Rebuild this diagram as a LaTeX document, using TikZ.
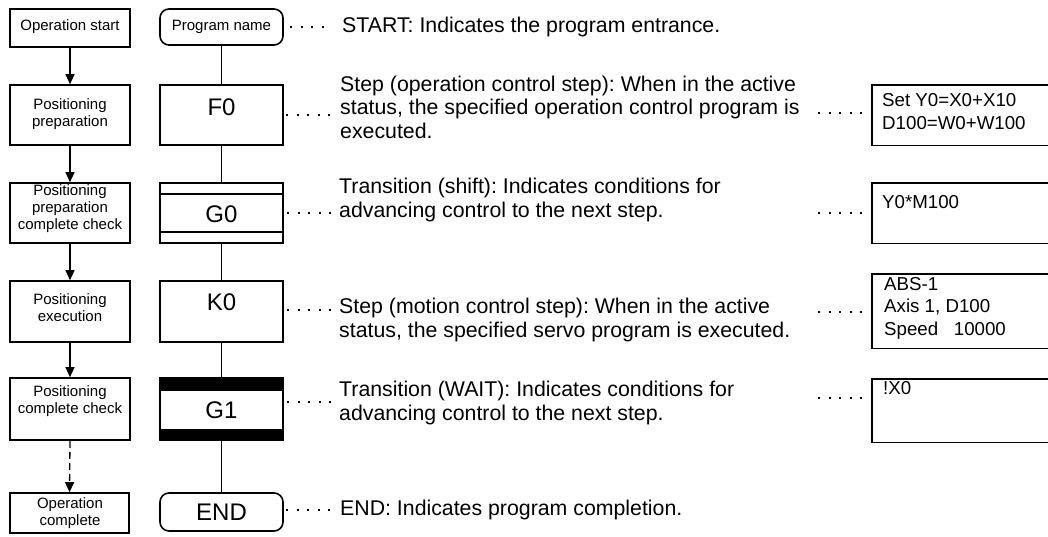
\documentclass[tikz,border=0pt]{standalone}
\usepackage{fontspec}
\setmainfont{Liberation Sans}
\usetikzlibrary{arrows.meta}
\frenchspacing
\begin{document}
\begin{tikzpicture}[x=1pt,y=-1pt,
  box/.style={draw,line width=1.6pt,inner sep=0pt},
  lbox/.style={box,minimum width=120pt},
  mbox/.style={box,minimum width=123pt},
  ltext/.style={font=\fontsize{15}{17}\selectfont,align=center,inner sep=0pt},
  mlab/.style={font=\fontsize{24}{28}\selectfont,inner sep=0pt},
  desc/.style={font=\fontsize{21.3}{23.5}\selectfont,align=left,anchor=west,inner sep=0pt},
  rtext/.style={font=\fontsize{18.7}{22.5}\selectfont,align=left,anchor=west,inner sep=0pt},
  flow/.style={line width=1.3pt,-{Triangle[width=9pt,length=10pt]}},
  dflow/.style={flow,dash pattern=on 7pt off 4pt},
  link/.style={line width=1.5pt},
  dots/.style={line width=2pt,dash pattern=on 2pt off 8.5pt},
  rbox/.style={line width=1.6pt}]
\useasboundingbox (0,0) rectangle (1048,537);

% ---------- left column ----------
\node[lbox,minimum height=38pt] (os) at (70,28) {};
\node[lbox,minimum height=60pt] (pp) at (70,115) {};
\node[lbox,minimum height=60pt] (ppc) at (70,213) {};
\node[lbox,minimum height=61pt] (pe) at (70,311.5) {};
\node[lbox,minimum height=62pt] (pcc) at (70,409) {};
\node[lbox,minimum height=40pt,minimum width=119pt] (oc) at (69.5,513) {};

\node[ltext] (tos) at (70,26.5) {Operation start};
\node[ltext] (tpp) at (70,114.5) {Positioning\\preparation};
\node[ltext] (tppc) at (70,209) {Positioning\\preparation\\complete check};
\node[ltext] (tpe) at (70,307.5) {Positioning\\execution};
\node[ltext] (tpcc) at (70,401.5) {Positioning\\complete check};
\node[ltext] (toc) at (70,513.5) {Operation\\complete};

\draw[flow] (os.south) -- (pp.north);
\draw[flow] (pp.south) -- (ppc.north);
\draw[flow] (ppc.south) -- (pe.north);
\draw[flow] (pe.south) -- (pcc.north);
\draw[dflow] (pcc.south) -- (oc.north);

% ---------- middle column ----------
\node[mbox,minimum height=36pt,rounded corners=9pt,font=\fontsize{15}{17}\selectfont] (prog) at (221.5,27) {Program name};
\node[mbox,minimum height=60pt] (f0) at (221.5,115) {};
\node[mbox,minimum height=60pt] (g0) at (221.5,213) {};
\node[mbox,minimum height=61pt] (k0) at (221.5,311.5) {};
\node[mbox,minimum height=62pt] (g1) at (221.5,409) {};
\node[mbox,minimum height=38pt,rounded corners=9pt,font=\fontsize{24}{28}\selectfont] (end) at (221.5,512) {END};

\draw[line width=1.6pt] (g0.west |- 0,194) -- (g0.east |- 0,194);
\draw[line width=1.6pt] (g0.west |- 0,232) -- (g0.east |- 0,232);
\fill (g1.north west) rectangle ([yshift=-14pt]g1.north east);
\fill ([yshift=12pt]g1.south west) rectangle (g1.south east);

\node[mlab] (f0l) at (221.5,107) {F0};
\node[mlab] (g0l) at (221.5,214) {G0};
\node[mlab] (k0l) at (221.5,302) {K0};
\node[mlab] (g1l) at (221.5,410) {G1};

\draw[link] (prog.south) -- (f0.north);
\draw[link] (f0.south) -- (g0.north);
\draw[link] (g0.south) -- (k0.north);
\draw[link] (k0.south) -- (g1.north);
\draw[link] (g1.south) -- (end.north);

% ---------- descriptions ----------
\node[desc] (dstart) at (342,26.5) {START: Indicates the program entrance.};
\node[desc] (dstep1) at (340,107) {Step (operation control step): When in the active\\status, the specified operation control program is\\executed.};
\node[desc] (dtr1) at (339,200) {Transition (shift): Indicates conditions for\\advancing control to the next step.};
\node[desc] (dstep2) at (339,320) {Step (motion control step): When in the active\\status, the specified servo program is executed.};
\node[desc] (dtr2) at (339,403) {Transition (WAIT): Indicates conditions for\\advancing control to the next step.};
\node[desc] (dend) at (340,510) {END: Indicates program completion.};

\coordinate (a1) at (290,27);  \coordinate (b1) at (323.5,27);
\coordinate (a2) at (286,115); \coordinate (b2) at (330,115);
\coordinate (a3) at (287,213); \coordinate (b3) at (331,213);
\coordinate (a4) at (287,310); \coordinate (b4) at (331,310);
\coordinate (a5) at (287,402); \coordinate (b5) at (331,402);
\coordinate (a6) at (286,510); \coordinate (b6) at (330,510);
\draw[dots] (a1) -- (b1);
\draw[dots] (a2) -- (b2);
\draw[dots] (a3) -- (b3);
\draw[dots] (a4) -- (b4);
\draw[dots] (a5) -- (b5);
\draw[dots] (a6) -- (b6);

% ---------- right boxes ----------
\node[inner sep=0pt,minimum width=190pt,minimum height=60pt,anchor=north west] (r1) at (872,85) {};
\node[inner sep=0pt,minimum width=190pt,minimum height=60pt,anchor=north west] (r2) at (872,183) {};
\node[inner sep=0pt,minimum width=190pt,minimum height=74pt,anchor=north west] (r3) at (872,274) {};
\node[inner sep=0pt,minimum width=190pt,minimum height=63pt,anchor=north west] (r4) at (872,379) {};
\foreach \r in {r1,r2,r3,r4}
  \draw[rbox] (\r.north east) -- (\r.north west) -- (\r.south west) -- (\r.south east);

\node[rtext] (r1t) at (882,111.5) {Set Y0=X0+X10\\D100=W0+W100};
\node[rtext] (r2t) at (882,202) {Y0*M100};
\node[rtext] (r3t) at (884,308) {ABS-1\\Axis 1, D100\\Speed\ \ \ 10000};
\node[rtext] (r4t) at (883,388) {!X0};

\coordinate (c1) at (818,113); \coordinate (c2) at (818,213);
\coordinate (c3) at (818,312); \coordinate (c4) at (818,398);
\draw[dots] (c1) -- (r1.west |- c1);
\draw[dots] (c2) -- (r2.west |- c2);
\draw[dots] (c3) -- (r3.west |- c3);
\draw[dots] (c4) -- (r4.west |- c4);
\end{tikzpicture}
\end{document}
